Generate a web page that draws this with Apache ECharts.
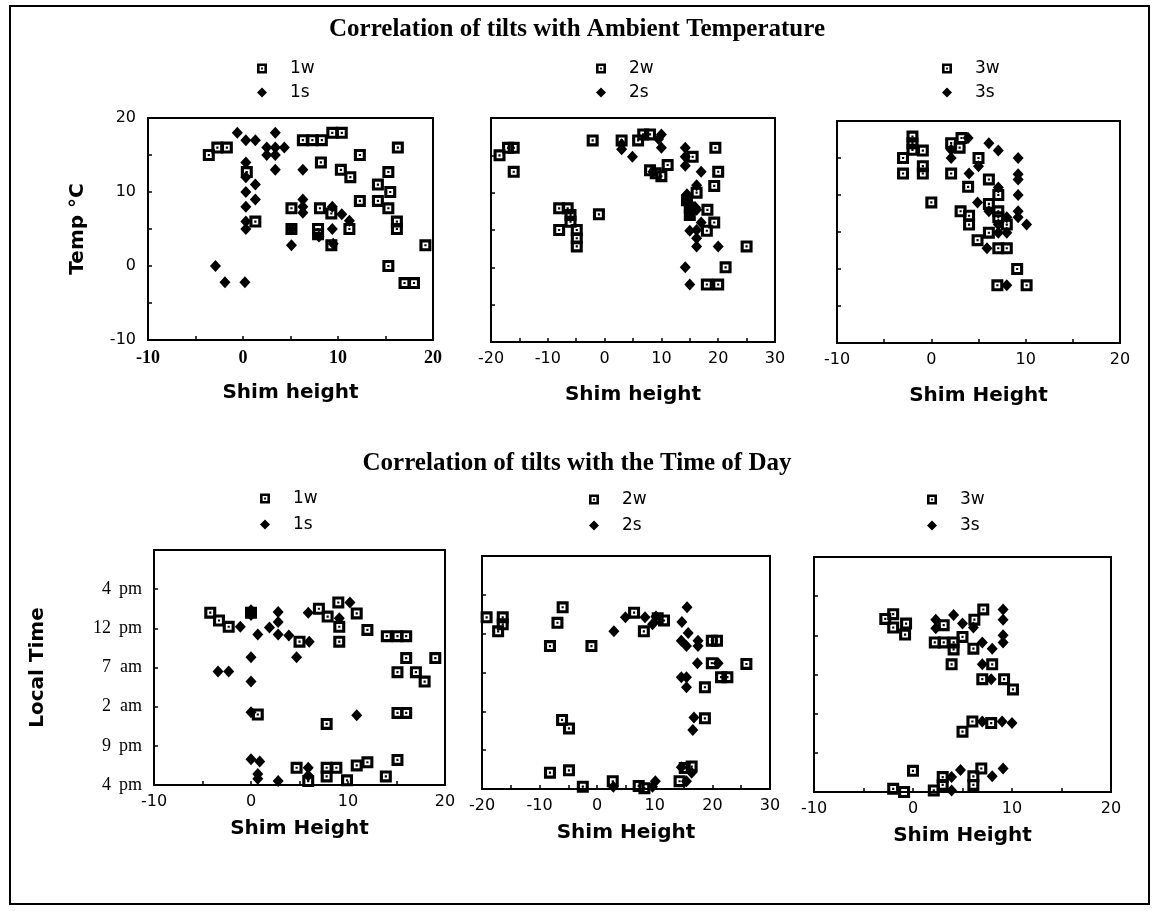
<!DOCTYPE html>
<html><head><meta charset="utf-8">
<script src="https://cdn.jsdelivr.net/npm/echarts@6/dist/echarts.min.js"></script>
<style>html,body{margin:0;padding:0;background:#fff}#c{width:1154px;height:911px}</style>
</head><body><div id="c"></div>
<script>
// ---------- titles / labels ----------
const titleTop = 'Correlation of tilts with Ambient Temperature';
const titleBottom = 'Correlation of tilts with the Time of Day';
const timeLabels = ['4 pm', '9 pm', '2 am', '7 am', '12 pm', '4 pm']; // at 0,5,10,15,20,25
const tempTickLabels = [-10, 0, 10, 20];

// ---------- data: Temperature vs shim height ----------
const temp1w = [[-3.6,15],[-2.7,16],[-1.7,16],[0.4,12.7],[6.3,17],[7.3,17],[8.3,17],[9.4,18],[10.4,18],
  [8.2,14],[10.3,13],[11.3,12],[12.3,15],[16.3,16],[15.3,12.7],[14.2,11],[15.5,10],[12.3,8.8],[14.2,8.8],
  [15.3,7.8],[16.2,6],[16.2,5],[19.2,2.8],[15.3,0],[17,-2.3],[18,-2.3],[5.1,7.8],[5.1,5],[8.1,7.8],
  [9.3,7.1],[7.9,5],[7.9,4.3],[9.3,2.8],[11.2,5],[1.3,6]];
const temp1s = [[-0.6,18],[0.3,17],[1.3,17],[3.4,18],[2.5,16],[3.4,16],[4.35,16],[2.5,15],[3.4,15],
  [3.4,13],[6.3,13],[0.3,14],[0.3,12],[1.3,11],[0.3,10],[1.3,9],[0.3,8],[0.3,6],[0.3,5],[-2.9,0],
  [-1.9,-2.2],[0.2,-2.2],[6.3,9],[6.3,8],[6.3,7.2],[5.1,2.8],[9.4,8],[10.4,7],[9.4,5],[11.2,6.1],[5.1,5],
  [8,4],[9.5,3]];
const temp2w = [[-18.5,15],[-17,16],[-16,16],[-16,12.8],[-2.1,17],[-8,7.9],[-6.5,7.9],[-6,7],[-6,6.1],
  [-8,5],[-4.9,5],[-4.9,3.9],[-4.9,2.8],[-1,7.1],[3,17],[5.9,17],[6.8,17.8],[8,17.8],[8,13],[9,12.6],
  [10,12.2],[11.1,13.7],[19.5,16],[20,12.8],[19.3,10.9],[16.2,10],[15.5,14.8],[18.1,7.7],[19.3,6],
  [18,4.9],[25,2.8],[21.3,0],[18,-2.3],[20,-2.3],[14.5,9],[15,8],[15,7]];
const temp2s = [[3,16.5],[3,15.8],[4.9,14.8],[10,17.8],[10,16],[14.2,16],[14.2,14.8],[14.2,13.6],
  [17,12.8],[16.2,11],[14.5,9.8],[14.5,9],[14.5,8.5],[15,8],[15,7.5],[15,7],[16,8],[16.2,7.7],[17,6],
  [15,4.9],[16.2,5],[16.2,3.9],[16.2,2.8],[20,2.8],[14.2,0],[15,-2.3],[8.5,12.8],[9.5,17.2]];
const temp3w = [[-2,17.9],[-2,17],[-2,16.1],[-0.9,16],[-3,15],[-0.9,13.9],[-0.9,12.9],[-3,12.9],[0,9],
  [2.1,17],[3.2,17.7],[3,16.4],[2.1,12.9],[5,15],[3.9,11.1],[6.1,12.1],[7.1,10],[3.1,7.8],[4,7.2],[4,6],
  [6.1,8.8],[7.1,7.8],[7.1,7],[8,6],[6.1,4.9],[4.9,3.9],[7.1,2.8],[8,2.8],[9.1,0],[7,-2.2],[10.1,-2.2]];
const temp3s = [[3.9,17.7],[2.1,16.1],[2.1,15],[6.1,17],[7.1,16],[9.2,15],[5,13.9],[4,12.9],[9.2,12.8],
  [9.2,12.1],[9.2,10],[7.1,11],[4.9,9],[6.1,7.8],[9.2,7.8],[9.2,7],[10.1,6],[8,7],[7.1,6],[8,4.9],
  [7.1,4.9],[5.9,2.8],[8,-2.2]];

// ---------- data: Local time (hours after 4 pm) vs shim height ----------
const time1w = [[-4.2,22],[-3.3,21],[-2.3,20.2],[0,22],[7,22.5],[7.9,21.5],[9,23.3],[9.1,20.2],[9.1,18.3],
  [10.9,21.9],[12,19.8],[14,19],[15.1,19],[16,19],[16,16.2],[19,16.2],[15.1,14.4],[17,14.4],[17.9,13.2],
  [15.1,9.2],[16,9.2],[0.7,9],[7.8,7.8],[4.7,2.2],[7.8,2.2],[8.8,2.2],[7.8,1.1],[10.9,2.5],[12,2.9],
  [15.1,3.2],[13.9,1.1],[9.9,0.6],[5.9,0.5],[5,18.3]];
const time1s = [[-1.1,20.2],[0,22.3],[0,21.7],[2.8,22.1],[2.8,20.8],[1.9,20.1],[0.7,19.2],[2.8,19.2],
  [3.9,19.1],[6,18.3],[5.9,22],[9.1,21.3],[10.2,23.3],[0,16.3],[4.7,16.3],[-3.4,14.5],[-2.3,14.5],
  [0,13.2],[0,9.3],[10.9,8.9],[0,3.3],[0.9,3],[0.7,1.4],[0.7,0.8],[2.8,0.5],[5.9,2.2],[5.9,1.2]];
const time2w = [[-19.2,22.1],[-16.4,22.1],[-16.4,21.2],[-17.2,20.3],[-6,23.4],[-6.9,21.4],[-8.2,18.4],
  [-1,18.4],[6.4,22.7],[8.1,20.3],[11.6,21.7],[10.5,22],[20.8,19.1],[19.9,19.1],[19.9,16.2],[25.9,16.1],
  [21.5,14.4],[22.6,14.4],[18.7,13.1],[18.7,9.1],[-6.1,8.9],[-4.9,7.8],[-8.2,2.1],[-4.9,2.4],[-2.5,0.3],
  [2.7,1],[7.2,0.4],[8.2,0.1],[16.4,2.9],[14.3,1],[15.2,2.7]];
const time2s = [[4.9,22.1],[2.9,20.3],[8.3,22.1],[10.2,22.2],[9.6,21.2],[15.6,23.4],[14.7,21.5],
  [15.8,20.1],[14.6,19.1],[15.5,18.4],[17.5,19.1],[17.5,18.4],[17.4,16.2],[21,16.2],[14.6,14.4],
  [15.5,14.4],[15.5,13.1],[16.8,9.2],[16.6,7.6],[14.6,2.8],[16.4,2.1],[15.5,1],[10.1,1],[9.6,0.3],[2.8,0.3]];
const time3w = [[-2.8,22.1],[-2,22.7],[-2,21],[-0.7,21.5],[-0.8,20.1],[3.1,21.3],[2.2,19.1],[3.1,19.1],
  [4.1,19.1],[4.1,18.2],[5,19.8],[3.9,16.3],[6.2,22],[7.1,23.3],[6.1,18.3],[8,16.3],[7,14.4],[9.2,14.4],
  [10.1,13.1],[6,9],[7.9,8.8],[5,7.7],[0,2.7],[-2,0.4],[-0.9,0],[2.1,0.2],[3,1.9],[3,0.9],[6.9,3],
  [6.1,2],[6.1,0.9]];
const time3s = [[2.3,22],[2.3,20.9],[4.1,22.6],[5,21.5],[6.1,21],[9.1,23.3],[9.1,22],[9.1,20],[9.1,19.1],
  [7,19.1],[8,18.3],[7,16.3],[7.9,14.4],[9,9],[10,8.8],[7,9],[4.8,2.8],[3.9,1.9],[3.9,0.2],[8,2],[9.1,3]];

// ---------- chart ----------
const sqPath = 'path://M0,0H10V10H0ZM2.6,2.6V7.4H7.4V2.6ZM4.1,4.1H5.9V5.9H4.1Z';
const grids = [
  {left:148, top:118, width:285, height:222},
  {left:491, top:118, width:284, height:224},
  {left:837, top:121, width:283, height:222},
  {left:154, top:550, width:291, height:235},
  {left:482, top:556, width:288, height:233},
  {left:814, top:557, width:297, height:235}
].map(g => Object.assign(g, {show:true, borderColor:'#000', borderWidth:2, backgroundColor:'transparent'}));

const sansLabel = {fontFamily:'DejaVu Sans', fontSize:16, color:'#000'};
function xAx(i, min, max, serif) {
  return {type:'value', gridIndex:i, min:min, max:max, interval:5,
    axisLine:{onZero:false, lineStyle:{color:'#000', width:2}},
    axisTick:{inside:true, length:4, lineStyle:{color:'#000', width:1.5}},
    splitLine:{show:false},
    axisLabel: Object.assign({}, serif ? {fontFamily:'Liberation Serif', fontWeight:'bold', fontSize:18, color:'#000'} : sansLabel,
      {margin:9, formatter: v => (v % 10 === 0 ? String(v) : '')}),
    name: i < 3 ? (i === 2 ? 'Shim Height' : 'Shim height') : 'Shim Height',
    nameLocation:'middle', nameGap: i < 3 ? 43 : 34,
    nameTextStyle:{fontFamily:'DejaVu Sans', fontWeight:'bold', fontSize:20, color:'#000'}};
}
function yTemp(i) {
  return {type:'value', gridIndex:i, min:-10, max:20, interval:5,
    axisLine:{onZero:false, lineStyle:{color:'#000', width:2}},
    axisTick:{inside:true, length:4, lineStyle:{color:'#000', width:1.5}},
    splitLine:{show:false},
    axisLabel: Object.assign({}, sansLabel, {show: i === 0, margin:12,
      formatter: v => (tempTickLabels.indexOf(v) >= 0 ? String(v) : '')}),
    name: i === 0 ? 'Temp °C' : '', nameLocation:'middle', nameGap:60,
    nameTextStyle:{fontFamily:'DejaVu Sans', fontWeight:'bold', fontSize:20, color:'#000'}};
}
function yTime(i) {
  return {type:'value', gridIndex:i, min:0, max:30, interval:5,
    axisLine:{onZero:false, lineStyle:{color:'#000', width:2}},
    axisTick:{inside:true, length:4, lineStyle:{color:'#000', width:1.5}},
    splitLine:{show:false},
    axisLabel:{show: i === 3, margin:12,
      formatter: v => { const l = timeLabels[v / 5]; if (!l) return ''; const p = l.split(' '); return '{n|' + p[0] + '}{u|' + p[1] + '}'; },
      rich:{n:{fontFamily:'Liberation Serif', fontSize:18, color:'#000', width:26, align:'right'},
            u:{fontFamily:'Liberation Serif', fontSize:18, color:'#000', width:31, align:'right'}}},
    name: i === 3 ? 'Local Time' : '', nameLocation:'middle', nameGap:106,
    nameTextStyle:{fontFamily:'DejaVu Sans', fontWeight:'bold', fontSize:20, color:'#000'}};
}

const panels = [
  ['1w', temp1w, '1s', temp1s], ['2w', temp2w, '2s', temp2s], ['3w', temp3w, '3s', temp3s],
  ['1w', time1w, '1s', time1s], ['2w', time2w, '2s', time2s], ['3w', time3w, '3s', time3s]
];
const series = [];
panels.forEach((p, i) => {
  series.push({type:'scatter', name:p[0], xAxisIndex:i, yAxisIndex:i, data:p[1], symbol:sqPath, symbolSize:12,
    itemStyle:{color:'#000', opacity:1}, silent:true, z:2});
  series.push({type:'scatter', name:p[2], xAxisIndex:i, yAxisIndex:i, data:p[3], symbol:'diamond', symbolSize:[11,12],
    itemStyle:{color:'#000', opacity:1}, silent:true, z:3});
});
const legendPos = [[257,60,7],[596,60,7],[942,60,7],[260,490,9],[589,491,9],[927,491,9]];
const legends = legendPos.map((lp, i) => ({
  data:[panels[i][0], panels[i][2]], orient:'vertical', left:lp[0], top:lp[1], padding:0,
  itemWidth:10, itemHeight:10, itemGap:lp[2], selectedMode:false,
  textStyle:{fontFamily:'DejaVu Sans', fontSize:17, color:'#000', padding:[0,0,0,18]}
}));

const chart = echarts.init(document.getElementById('c'), null, {renderer:'canvas'});
chart.setOption({
  backgroundColor:'#fff', animation:false,
  title:[
    {text:titleTop, left:'center', top:12, textStyle:{fontFamily:'Liberation Serif', fontWeight:'bold', fontSize:25, color:'#000'}},
    {text:titleBottom, left:'center', top:446, textStyle:{fontFamily:'Liberation Serif', fontWeight:'bold', fontSize:25, color:'#000'}}
  ],
  legend: legends,
  grid: grids,
  xAxis: [xAx(0,-10,20,true), xAx(1,-20,30,false), xAx(2,-10,20,false), xAx(3,-10,20,false), xAx(4,-20,30,false), xAx(5,-10,20,false)],
  yAxis: [yTemp(0), yTemp(1), yTemp(2), yTime(3), yTime(4), yTime(5)],
  series: series,
  graphic:[{type:'rect', shape:{x:10, y:6, width:1139, height:898}, style:{fill:'none', stroke:'#000', lineWidth:2}, silent:true}]
});
</script></body></html>
